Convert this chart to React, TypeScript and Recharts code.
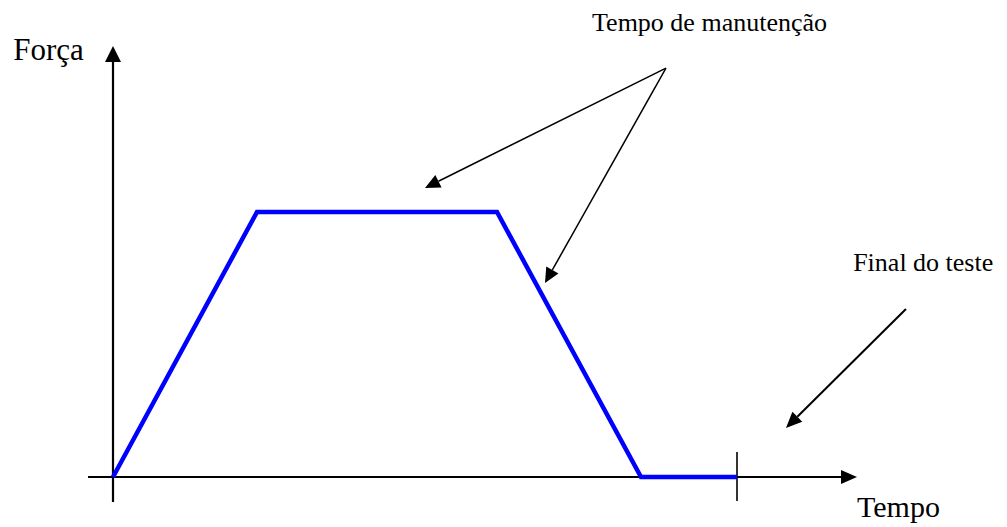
import React from 'react';
import {
  ComposedChart,
  Line,
  XAxis,
  YAxis,
  ReferenceLine,
  ReferenceDot,
} from 'recharts';

// force profile: ramp up, hold, ramp down, rest until end of test
const times = [0, 3, 8, 11, 13];
const forces = [0, 10, 10, 0, 0];

const data = times.map((t, i) => ({ t, f: forces[i] }));

// annotation arrows, in data units: [fromT, fromF, toT, toF]
const holdArrows = [
  [11.52, 15.43, 6.5, 10.91],
  [11.52, 15.43, 9.0, 7.32],
];
const endArrow = [16.52, 6.34, 14.02, 1.85];

const labels = [
  { text: 'Força', t: -2.08, f: 15.74, size: 31 },
  { text: 'Tempo', t: 15.5, f: -1.51, size: 30 },
  { text: 'Tempo de manutenção', t: 9.98, f: 16.83, size: 26 },
  { text: 'Final do teste', t: 15.42, f: 7.77, size: 26 },
];

const FONT = "'Liberation Serif', 'Times New Roman', Times, serif";

const arrowShape =
  (width: number, len: number, half: number) => (props: any) => {
    const { x1, y1, x2, y2 } = props;
    const dx = x2 - x1;
    const dy = y2 - y1;
    const d = Math.sqrt(dx * dx + dy * dy) || 1;
    const ux = dx / d;
    const uy = dy / d;
    const bx = x2 - ux * len;
    const by = y2 - uy * len;
    const pts = [
      `${x2},${y2}`,
      `${bx - uy * half},${by + ux * half}`,
      `${bx + uy * half},${by - ux * half}`,
    ].join(' ');
    return (
      <g>
        <line x1={x1} y1={y1} x2={bx} y2={by} stroke="#000" strokeWidth={width} />
        <polygon points={pts} fill="#000" />
      </g>
    );
  };

const plainLine = (width: number) => (props: any) => (
  <line
    x1={props.x1}
    y1={props.y1}
    x2={props.x2}
    y2={props.y2}
    stroke="#000"
    strokeWidth={width}
  />
);

const textShape = (text: string, size: number) => (props: any) => (
  <text
    x={props.cx}
    y={props.cy}
    fill="#000"
    style={{ fontFamily: FONT, fontSize: size }}
  >
    {text}
  </text>
);

export default function App() {
  return (
    <div
      style={{
        position: 'absolute',
        left: 0,
        top: 0,
        background: '#fff',
        fontFamily: FONT,
      }}
    >
      <ComposedChart
        width={1007}
        height={527}
        data={data}
        margin={{ top: 0, right: 0, bottom: 0, left: 0 }}
      >
        <XAxis
          dataKey="t"
          type="number"
          domain={[-2.3542, 18.625]}
          allowDataOverflow
          hide
        />
        <YAxis type="number" domain={[-1.8868, 18]} allowDataOverflow hide />

        {/* axes with arrowheads */}
        <ReferenceLine
          segment={[
            { x: -0.52, y: 0 },
            { x: 15.5, y: 0 },
          ]}
          ifOverflow="visible"
          shape={arrowShape(2.2, 16, 7)}
        />
        <ReferenceLine
          segment={[
            { x: 0, y: -0.94 },
            { x: 0, y: 16.26 },
          ]}
          ifOverflow="visible"
          shape={arrowShape(2.2, 16, 8)}
        />
        {/* end-of-test tick */}
        <ReferenceLine
          segment={[
            { x: 13, y: 0.94 },
            { x: 13, y: -0.91 },
          ]}
          ifOverflow="visible"
          shape={plainLine(1.6)}
        />

        {holdArrows.map((a, i) => (
          <ReferenceLine
            key={`h${i}`}
            segment={[
              { x: a[0], y: a[1] },
              { x: a[2], y: a[3] },
            ]}
            ifOverflow="visible"
            shape={arrowShape(1.5, 15, 7)}
          />
        ))}
        <ReferenceLine
          segment={[
            { x: endArrow[0], y: endArrow[1] },
            { x: endArrow[2], y: endArrow[3] },
          ]}
          ifOverflow="visible"
          shape={arrowShape(2, 16, 7)}
        />

        {labels.map((l) => (
          <ReferenceDot
            key={l.text}
            x={l.t}
            y={l.f}
            r={0}
            ifOverflow="visible"
            shape={textShape(l.text, l.size)}
          />
        ))}

        <Line
          type="linear"
          dataKey="f"
          stroke="#0000FF"
          strokeWidth={4.5}
          strokeLinejoin="miter"
          dot={false}
          activeDot={false}
          isAnimationActive={false}
        />
      </ComposedChart>
    </div>
  );
}
